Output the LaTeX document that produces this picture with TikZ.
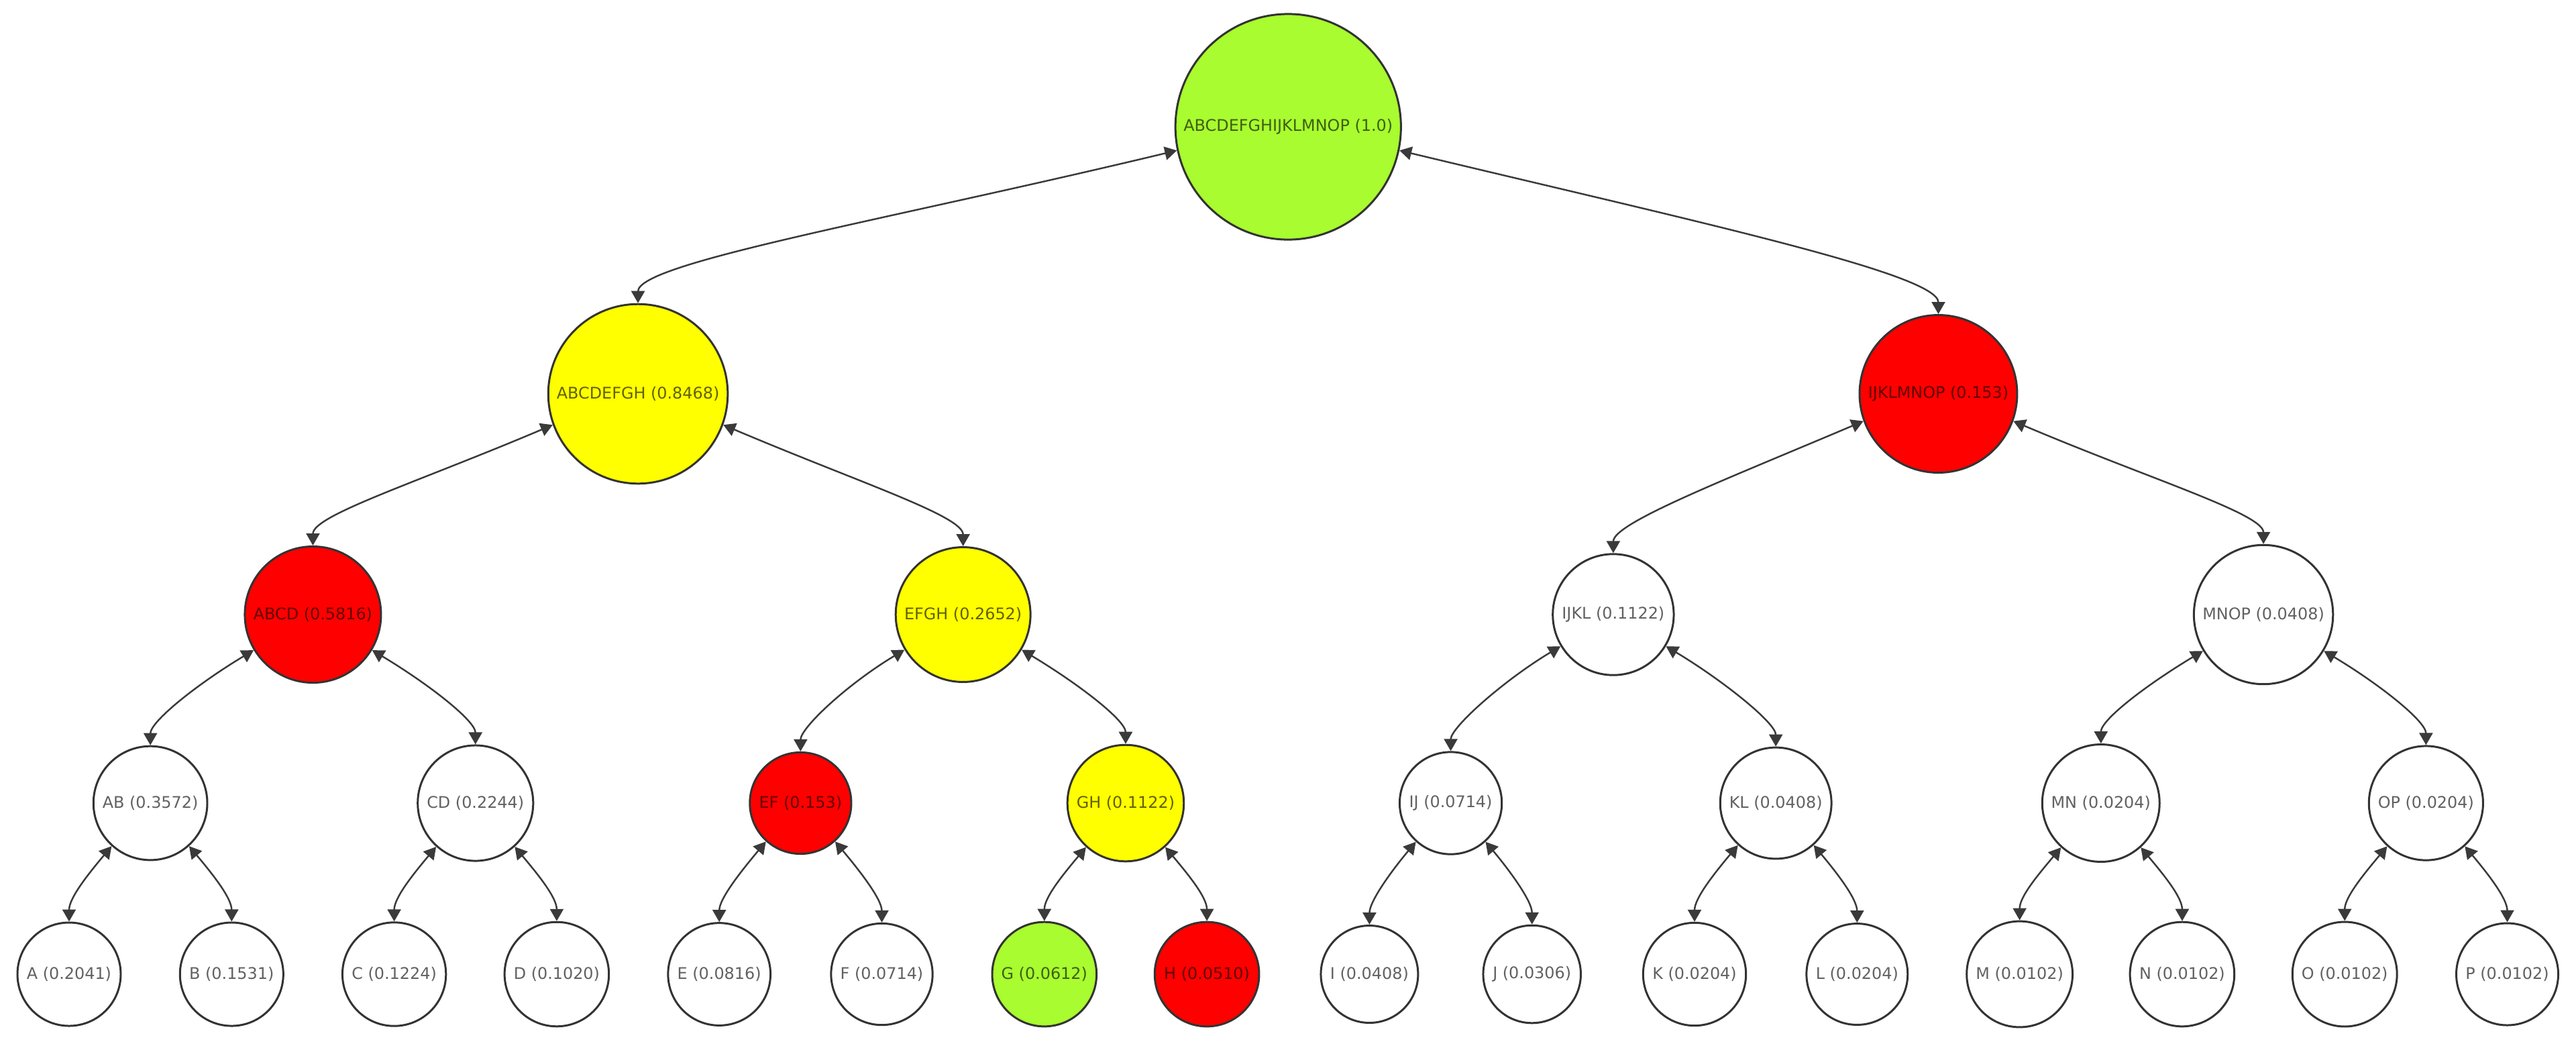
\documentclass[tikz,border=0pt]{standalone}
\usepackage{fontspec}
\setmainfont{DejaVu Sans}
\usetikzlibrary{arrows.meta}
\definecolor{gnode}{HTML}{A8FC2F}
\definecolor{ynode}{HTML}{FFFF00}
\definecolor{rnode}{HTML}{FF0000}
\definecolor{bordc}{HTML}{333333}
\definecolor{linec}{HTML}{3A3A3A}
\tikzset{
  nd/.style={circle, draw=bordc, line width=0.85pt, fill=white, inner sep=3.1pt,
    text=black, text opacity=0.62, font=\fontsize{6.8}{8}\selectfont},
  gn/.style={nd, fill=gnode},
  yn/.style={nd, fill=ynode},
  rn/.style={nd, fill=rnode},
  link/.style={draw=linec, line width=0.7pt,
    {Triangle[length=0.18cm,width=0.2cm]}-{Triangle[length=0.18cm,width=0.2cm]}}
}
\begin{document}
\begin{tikzpicture}
\useasboundingbox (0,0) rectangle (38.4,-15.61);
% root
\node[gn] (root) at (19.2025,-1.89) {ABCDEFGHIJKLMNOP (1.0)};
% level 1
\node[yn] (abcdefgh) at (9.5105,-5.87) {ABCDEFGH (0.8468)};
\node[rn] (ijklmnop) at (28.8945,-5.87) {IJKLMNOP (0.153)};
% level 2
\node[rn] (abcd) at (4.6645,-9.16) {ABCD (0.5816)};
\node[yn] (efgh) at (14.3565,-9.16) {EFGH (0.2652)};
\node[nd] (ijkl) at (24.0485,-9.16) {IJKL (0.1122)};
\node[nd] (mnop) at (33.7405,-9.16) {MNOP (0.0408)};
% level 3
\node[nd] (ab) at (2.2415,-11.97) {AB (0.3572)};
\node[nd] (cd) at (7.0875,-11.97) {CD (0.2244)};
\node[rn] (ef) at (11.9335,-11.97) {EF (0.153)};
\node[yn] (gh) at (16.7795,-11.97) {GH (0.1122)};
\node[nd] (ij) at (21.6255,-11.97) {IJ (0.0714)};
\node[nd] (kl) at (26.4715,-11.97) {KL (0.0408)};
\node[nd] (mn) at (31.3175,-11.97) {MN (0.0204)};
\node[nd] (op) at (36.1635,-11.97) {OP (0.0204)};
% leaves
\node[nd] (la) at (1.03,-14.52) {A (0.2041)};
\node[nd] (lb) at (3.453,-14.52) {B (0.1531)};
\node[nd] (lc) at (5.876,-14.52) {C (0.1224)};
\node[nd] (ld) at (8.299,-14.52) {D (0.1020)};
\node[nd] (le) at (10.722,-14.52) {E (0.0816)};
\node[nd] (lf) at (13.145,-14.52) {F (0.0714)};
\node[gn] (lg) at (15.568,-14.52) {G (0.0612)};
\node[rn] (lh) at (17.991,-14.52) {H (0.0510)};
\node[nd] (li) at (20.414,-14.52) {I (0.0408)};
\node[nd] (lj) at (22.837,-14.52) {J (0.0306)};
\node[nd] (lk) at (25.26,-14.52) {K (0.0204)};
\node[nd] (ll) at (27.683,-14.52) {L (0.0204)};
\node[nd] (lm) at (30.106,-14.52) {M (0.0102)};
\node[nd] (ln) at (32.529,-14.52) {N (0.0102)};
\node[nd] (lo) at (34.952,-14.52) {O (0.0102)};
\node[nd] (lp) at (37.375,-14.52) {P (0.0102)};
% level 0 -> 1
\draw[link] (root.192.5) .. controls +(193.5:4.5) and +(0,0.6) .. (abcdefgh.north);
\draw[link] (root.-12.5) .. controls +(-13.5:4.5) and +(0,0.6) .. (ijklmnop.north);
% level 1 -> 2
\draw[link] (abcdefgh.200.5) .. controls +(203:2.2) and +(0,0.45) .. (abcd.north);
\draw[link] (abcdefgh.-20.5) .. controls +(-23:2.2) and +(0,0.45) .. (efgh.north);
\draw[link] (ijklmnop.200.5) .. controls +(203:2.2) and +(0,0.45) .. (ijkl.north);
\draw[link] (ijklmnop.-20.5) .. controls +(-23:2.2) and +(0,0.45) .. (mnop.north);
% level 2 -> 3
\foreach \p/\l/\r in {abcd/ab/cd, efgh/ef/gh, ijkl/ij/kl, mnop/mn/op}{
  \draw[link] (\p.211.5) .. controls +(211:1.0) and +(0,0.35) .. (\l.north);
  \draw[link] (\p.-31.5) .. controls +(-31:1.0) and +(0,0.35) .. (\r.north);
}
% level 3 -> 4
\foreach \p/\l/\r in {ab/la/lb, cd/lc/ld, ef/le/lf, gh/lg/lh, ij/li/lj, kl/lk/ll, mn/lm/ln, op/lo/lp}{
  \draw[link] (\p.228) .. controls +(230:0.55) and +(0,0.35) .. (\l.north);
  \draw[link] (\p.-48) .. controls +(-50:0.55) and +(0,0.35) .. (\r.north);
}
\end{tikzpicture}
\end{document}
